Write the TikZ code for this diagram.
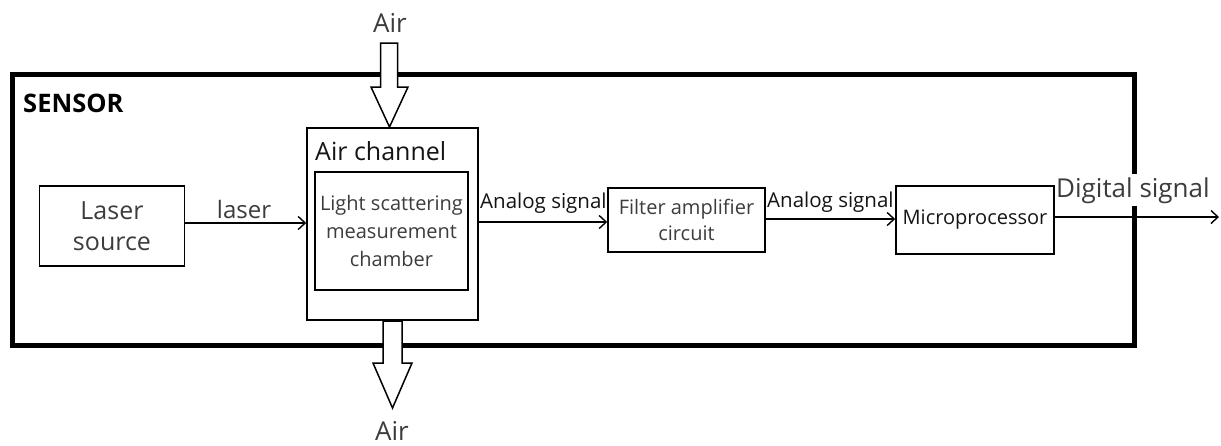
\documentclass[tikz,border=0pt]{standalone}
\usepackage{fontspec}
\setmainfont{Open Sans}
\usetikzlibrary{arrows.meta}
\definecolor{txtgray}{RGB}{60,60,60}
\definecolor{txtdark}{RGB}{20,20,20}
\begin{document}
\begin{tikzpicture}[x=1pt,y=-1pt,
  blk/.style={draw=black,line width=1.6pt,inner sep=0pt,align=center,text=txtgray},
  sig/.style={draw=black,line width=1.4pt,-{Straight Barb[length=7pt,width=13pt,line width=1.4pt]}},
  airarrow/.style={draw=black,line width=1.5pt,fill=white,line join=miter},
  lbl/.style={inner sep=0pt,text=txtgray}]
\useasboundingbox (0,0) rectangle (1221,445);
% outer sensor box
\draw[line width=5pt] (12.5,74.5) rectangle (1134.5,345.5);
\node[anchor=base west,inner sep=0pt,font=\fontsize{25.5}{28}\selectfont\bfseries] (sensor) at (23,112) {SENSOR};
% blocks
\node[blk,minimum width=145pt,minimum height=80pt,font=\fontsize{25}{31}\selectfont] (laser) at (112,226) {Laser\\source};
\node[blk,minimum width=171pt,minimum height=192pt] (chan) at (392.5,224) {};
\node[anchor=base west,inner sep=0pt,text=txtdark,font=\fontsize{25}{28}\selectfont] (chanlbl) at (315,160) {Air channel};
\node[blk,minimum width=153pt,minimum height=118pt,font=\fontsize{20}{28}\selectfont] (chamber) at (391.5,231) {Light scattering\\measurement\\chamber};
\node[blk,minimum width=157pt,minimum height=64pt,font=\fontsize{20}{26}\selectfont] (filt) at (686.5,220) {Filter amplifier\\circuit};
\node[blk,minimum width=158pt,minimum height=68pt,text=txtdark,font=\fontsize{20}{24}\selectfont] (micro) at (975,220) {Microprocessor};
\coordinate (out) at (1219,217);
% connectors
\draw[sig] (laser.east |- 0,223) -- (chan.west |- 0,223);
\node[lbl,anchor=base,font=\fontsize{24}{28}\selectfont] (laserlbl) at (244,218) {laser};
\draw[sig] (chan.east |- 0,222) -- (filt.west |- 0,222);
\node[lbl,anchor=base west,text=txtdark,font=\fontsize{20.5}{24}\selectfont] (an1) at (480,208) {Analog signal};
\draw[sig] (filt.east |- 0,219) -- (micro.west |- 0,219);
\node[lbl,anchor=base west,text=txtdark,font=\fontsize{20.5}{24}\selectfont] (an2) at (767,207) {Analog signal};
\draw[sig] (micro.east |- out) -- (out);
\node[anchor=base west,inner xsep=1pt,inner ysep=3pt,fill=white,text=txtgray,font=\fontsize{26}{28}\selectfont] (dig) at (1055,197) {Digital signal};
% air arrows
\node[lbl,anchor=base,font=\fontsize{26}{28}\selectfont] (airtop) at (390,32) {Air};
\node[lbl,anchor=base,font=\fontsize{26}{28}\selectfont] (airbot) at (392,440) {Air};
\draw[airarrow] (380.5,43) -- (397.5,43) -- (397.5,87) -- (408,87) -- (389.5,127) -- (371,87) -- (380.5,87) -- cycle;
\draw[airarrow] (383,321) -- (402,321) -- (402,363) -- (412,363) -- (392.5,408) -- (373,363) -- (383,363) -- cycle;
\end{tikzpicture}
\end{document}
